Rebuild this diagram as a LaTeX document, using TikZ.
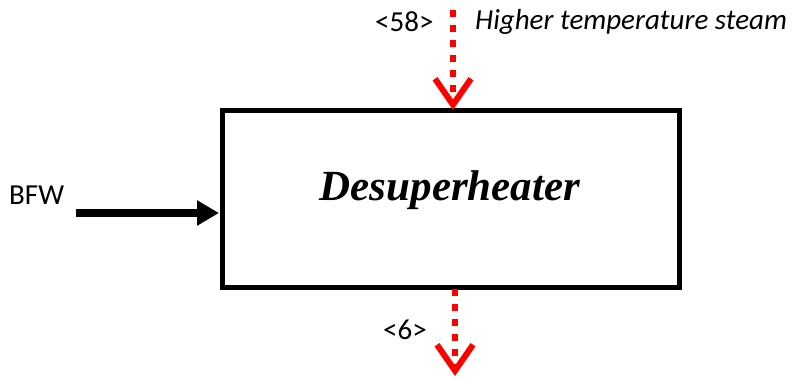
\documentclass[tikz,border=0pt]{standalone}
\usepackage{fontspec}
\setmainfont{Carlito}
\newfontfamily\timesfont{Liberation Serif}
\usetikzlibrary{arrows.meta}
\definecolor{steamred}{RGB}{255,0,0}
\tikzset{
  unitbox/.style={draw=black, line width=5pt, minimum width=457pt, minimum height=177pt, inner sep=0pt},
  lbl/.style={font=\fontsize{29}{32}\selectfont, inner sep=0pt},
  steam/.style={draw=steamred, line width=6.5pt, dash pattern=on 7pt off 8pt,
     -{Straight Barb[length=26pt, width=36pt, line width=6pt, line join=miter]}},
  feed/.style={draw=black, line width=7.5pt, -{Triangle[length=22pt, width=24pt]}}
}
\begin{document}
\begin{tikzpicture}[x=1pt, y=-1pt]
\useasboundingbox (0,0) rectangle (797,380);
\node[unitbox] (box) at (451,199) {};
\node[inner sep=0pt, font=\timesfont\bfseries\itshape\fontsize{43}{46}\selectfont] (name) at (450,190) {Desuperheater};
\coordinate (steamin) at (453,10);
\coordinate (boxtop) at (453,110);
\draw[steam] (steamin) -- (boxtop);
\coordinate (boxbot) at (455,289);
\coordinate (outend) at (455,376);
\draw[steam] (boxbot) -- (outend);
\coordinate (bfwstart) at (76,213);
\coordinate (boxleft) at (219,213);
\draw[feed] (bfwstart) -- (boxleft);
\node[lbl, anchor=west] (bfw) at (9,195) {BFW};
\node[lbl, anchor=west] (s58) at (375,22) {<58>};
\node[lbl, anchor=west, font=\itshape\fontsize{29}{32}\selectfont] (hts) at (475,22) {Higher temperature steam};
\node[lbl, anchor=west] (s6) at (383,330) {<6>};
\end{tikzpicture}
\end{document}
